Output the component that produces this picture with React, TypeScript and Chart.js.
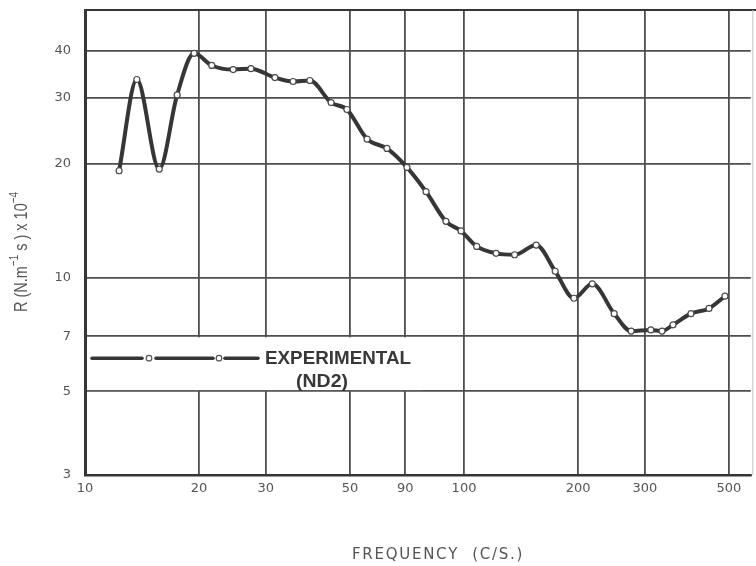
import React, { useEffect, useRef } from 'react';
import { Chart, registerables } from 'chart.js';

Chart.register(...registerables);

// Measured response: frequency (c/s) against R in units of 1e-4 N·m⁻¹·s
const frequencies = [
  12.3, 13.7, 15.7, 17.5, 19.4, 21.6, 24.6, 27.4, 31.7, 35.4, 39.2, 44.6,
  49.1, 55.5, 62.6, 70.7, 79.4, 89.6, 98.2, 108, 121.5, 136, 155, 174,
  195, 218, 249, 276, 311, 333, 356, 397, 443, 488,
];
const resistance = [
  19.2, 33.5, 19.4, 30.5, 39.3, 36.5, 35.6, 35.8, 33.9, 33.1, 33.3, 29.1,
  27.9, 23.3, 22.0, 19.6, 16.9, 14.1, 13.3, 12.1, 11.6, 11.5, 12.2, 10.4,
  8.82, 9.63, 8.03, 7.22, 7.27, 7.22, 7.5, 8.03, 8.29, 8.93,
];

// Grid positions and the labels printed under them
const xTickValues = [10, 20, 30, 50, 70, 100, 200, 300, 500];
const xTickLabels = ['10', '20', '30', '50', '90', '100', '200', '300', '500'];
const yTickValues = [3, 5, 7, 10, 20, 30, 40];
const yTickLabels = ['3', '5', '7', '10', '20', '30', '40'];

const legendLines = ['EXPERIMENTAL', '(ND2)'];
const xTitle = 'FREQUENCY  (C/S.)';

const INK = '#363636';
const GRID = '#4e4e4e';
const LABEL = '#555555';
const TICK_FONT = { family: 'DejaVu Sans', size: 13 };

// Draw text squeezed/stretched horizontally to a given width
function drawFitted(
  ctx: CanvasRenderingContext2D,
  text: string,
  x: number,
  y: number,
  width: number,
  align: 'left' | 'center'
) {
  const natural = ctx.measureText(text).width;
  const s = width / natural;
  ctx.save();
  ctx.translate(x, y);
  ctx.scale(s, 1);
  ctx.textAlign = 'left';
  ctx.fillText(text, align === 'center' ? -natural / 2 : 0, 0);
  ctx.restore();
}

const paperPlugin = {
  id: 'paperOverlay',
  beforeDatasetsDraw(chart: any) {
    const { ctx, chartArea } = chart;
    const ys = chart.scales.y;
    const y7 = ys.getPixelForValue(7);
    const y5 = ys.getPixelForValue(5);
    ctx.save();
    // blank panel behind the key
    ctx.fillStyle = '#ffffff';
    ctx.fillRect(chartArea.left + 2, y7 + 1.2, 335, y5 - y7 - 2.4);
    // top frame line
    ctx.strokeStyle = INK;
    ctx.lineWidth = 2;
    ctx.beginPath();
    ctx.moveTo(chartArea.left, chartArea.top);
    ctx.lineTo(chartArea.right + 6, chartArea.top);
    ctx.stroke();
    // faint right edge
    ctx.strokeStyle = '#c4c4c4';
    ctx.lineWidth = 1;
    ctx.beginPath();
    ctx.moveTo(chartArea.right + 2, chartArea.top);
    ctx.lineTo(chartArea.right + 2, chartArea.bottom);
    ctx.stroke();
    ctx.restore();
  },
  afterDatasetsDraw(chart: any) {
    const { ctx, chartArea } = chart;
    const ys = chart.scales.y;
    const y7 = ys.getPixelForValue(7);
    const L = chartArea.left;
    const ly = y7 + 22;
    ctx.save();
    // key: line with open markers
    ctx.strokeStyle = INK;
    ctx.lineWidth = 3.5;
    ctx.lineCap = 'round';
    const segs = [
      [7, 57],
      [71, 128],
      [140, 173],
    ];
    segs.forEach(([a, b]) => {
      ctx.beginPath();
      ctx.moveTo(L + a, ly);
      ctx.lineTo(L + b, ly);
      ctx.stroke();
    });
    [64, 134].forEach((cx) => {
      ctx.beginPath();
      ctx.arc(L + cx, ly, 2.8, 0, Math.PI * 2);
      ctx.fillStyle = '#fff';
      ctx.fill();
      ctx.lineWidth = 1.2;
      ctx.strokeStyle = '#555';
      ctx.stroke();
    });
    ctx.fillStyle = '#383838';
    ctx.font = 'bold 18px "Liberation Sans"';
    ctx.textBaseline = 'middle';
    drawFitted(ctx, legendLines[0], L + 180, ly + 1, 146, 'left');
    drawFitted(ctx, legendLines[1], L + 237, ly + 24, 52, 'center');
    ctx.restore();
  },
  afterDraw(chart: any) {
    const { ctx } = chart;
    ctx.save();
    ctx.fillStyle = LABEL;
    ctx.textBaseline = 'alphabetic';

    // vertical axis title with superscripts, reading upward
    const parts: [string, boolean][] = [
      ['R (N.m', false],
      ['\u22121', true],
      [' s ) x 10', false],
      ['\u22124', true],
    ];
    const mainFont = '19px "Liberation Sans"';
    const supFont = '13px "Liberation Sans"';
    let total = 0;
    const widths = parts.map(([t, sup]) => {
      ctx.font = sup ? supFont : mainFont;
      const w = ctx.measureText(t).width;
      total += w;
      return w;
    });
    const target = 120;
    const s = target / total;
    ctx.translate(27, 252);
    ctx.rotate(-Math.PI / 2);
    ctx.scale(s, 1);
    let x = -total / 2;
    parts.forEach(([t, sup], i) => {
      ctx.font = sup ? supFont : mainFont;
      ctx.fillText(t, x, sup ? -9 : 0);
      x += widths[i];
    });
    ctx.restore();

    // horizontal axis title, letter-spaced
    ctx.save();
    ctx.fillStyle = LABEL;
    ctx.font = '15px "DejaVu Sans"';
    ctx.textBaseline = 'alphabetic';
    const nat = ctx.measureText(xTitle).width;
    const gap = (170 - nat) / (xTitle.length - 1);
    let cx = 437 - 85;
    for (const ch of xTitle) {
      ctx.fillText(ch, cx, 559);
      cx += ctx.measureText(ch).width + gap;
    }
    ctx.restore();
  },
};

export default function App() {
  const canvasRef = useRef<HTMLCanvasElement | null>(null);

  useEffect(() => {
    const canvas = canvasRef.current;
    if (!canvas) return;
    const chart = new Chart(canvas, {
      type: 'line',
      data: {
        datasets: [
          {
            data: frequencies.map((f, i) => ({ x: f, y: resistance[i] })),
            borderColor: INK,
            borderWidth: 4,
            pointRadius: 3,
            pointBackgroundColor: '#ffffff',
            pointBorderColor: '#4a4a4a',
            pointBorderWidth: 1.2,
            cubicInterpolationMode: 'monotone',
          },
        ],
      },
      options: {
        animation: false,
        responsive: false,
        devicePixelRatio: 1,
        layout: { padding: { top: 10, right: 0, left: 0, bottom: 0 } },
        plugins: {
          legend: { display: false },
          tooltip: { enabled: false },
        },
        scales: {
          x: {
            type: 'logarithmic',
            min: 10,
            max: 571,
            afterBuildTicks: (scale: any) => {
              scale.ticks = xTickValues.map((v) => ({ value: v }));
            },
            afterFit: (scale: any) => {
              scale.height = 91;
              scale.paddingLeft = 0;
              scale.paddingRight = 0;
            },
            ticks: {
              autoSkip: false,
              maxRotation: 0,
              padding: 6,
              color: LABEL,
              font: TICK_FONT,
              callback: (v: any) => {
                const i = xTickValues.indexOf(Number(v));
                return i >= 0 ? xTickLabels[i] : '';
              },
            },
            grid: { color: GRID, lineWidth: 1.8, drawTicks: false },
            border: { color: INK, width: 2.5 },
          },
          y: {
            type: 'logarithmic',
            min: 3,
            max: 51.2,
            afterBuildTicks: (scale: any) => {
              scale.ticks = yTickValues.map((v) => ({ value: v }));
            },
            afterFit: (scale: any) => {
              scale.width = 85;
              scale.paddingTop = 0;
              scale.paddingBottom = 0;
            },
            ticks: {
              autoSkip: false,
              padding: 14,
              color: LABEL,
              font: TICK_FONT,
              callback: (v: any) => {
                const i = yTickValues.indexOf(Number(v));
                return i >= 0 ? yTickLabels[i] : '';
              },
            },
            grid: { color: GRID, lineWidth: 1.8, drawTicks: false },
            border: { color: INK, width: 3 },
          },
        },
      },
      plugins: [paperPlugin],
    } as any);
    return () => chart.destroy();
  }, []);

  return (
    <div
      style={{
        position: 'absolute',
        left: 0,
        top: 0,
        width: 756,
        height: 566,
        background: '#ffffff',
      }}
    >
      <canvas
        ref={canvasRef}
        width={756}
        height={566}
        style={{ width: 756, height: 566, display: 'block' }}
      />
    </div>
  );
}
